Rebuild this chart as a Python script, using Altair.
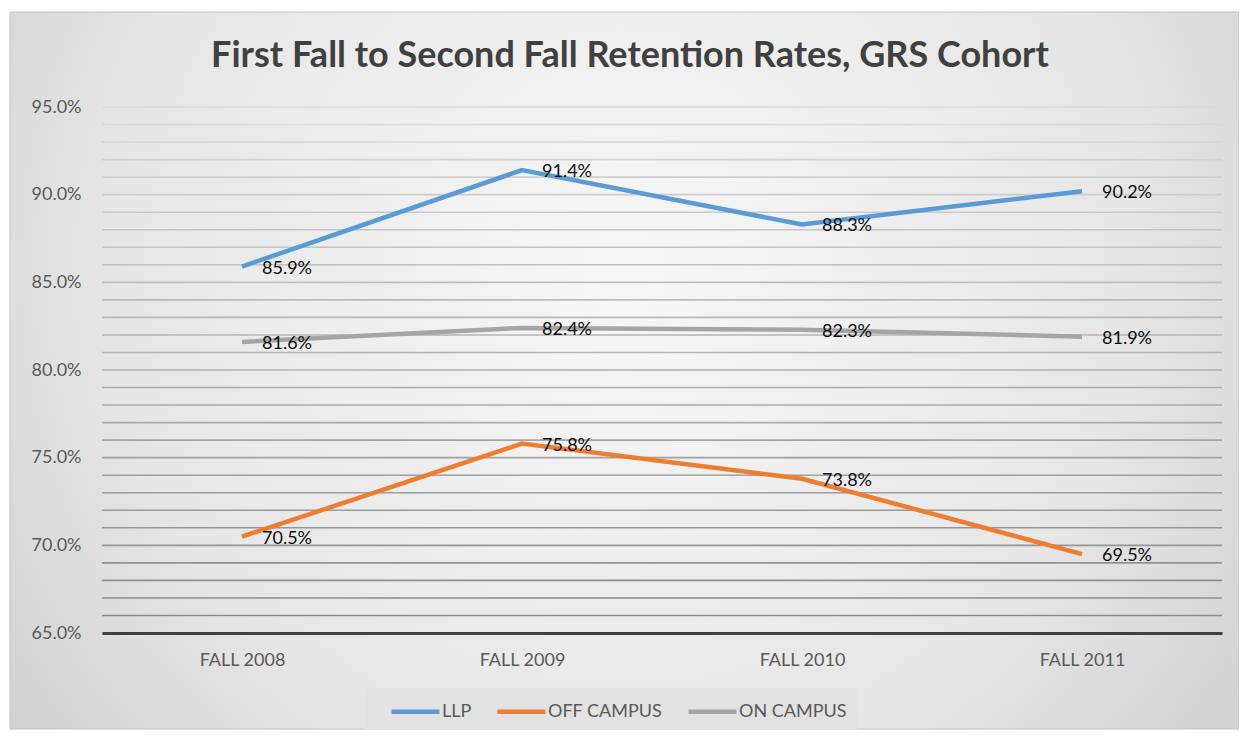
import altair as alt
import pandas as pd

years = ["FALL 2008", "FALL 2009", "FALL 2010", "FALL 2011"]
series = ["LLP", "OFF CAMPUS", "ON CAMPUS"]
llp = [85.9, 91.4, 88.3, 90.2]
off_campus = [70.5, 75.8, 73.8, 69.5]
on_campus = [81.6, 82.4, 82.3, 81.9]
colors = ["#5B9BD5", "#ED7D31", "#A5A5A5"]
major_ticks = [65, 70, 75, 80, 85, 90, 95]
grid_values = list(range(66, 96))
title_text = "First Fall to Second Fall Retention Rates, GRS Cohort"

rows = []
for name, vals in zip(series, [llp, off_campus, on_campus]):
    for yr, v in zip(years, vals):
        rows.append({"year": yr, "series": name, "value": v})
df = pd.DataFrame(rows)
grid_df = pd.DataFrame({"g": grid_values})
one = pd.DataFrame({"a": [0]})

FONT = "Lato"
W, H = 1120, 526

yscale = alt.Scale(domain=[65, 95], nice=False, zero=False)
xenc = alt.X("year:N", sort=years, scale=alt.Scale(type="point", padding=0.5),
             axis=alt.Axis(title=None, ticks=False, domain=True, domainColor="#404040",
                           domainWidth=3, labelFontSize=18, labelColor="#595959",
                           labelFont=FONT, labelPadding=18, labelAngle=0, zindex=1, grid=False))

bg = alt.Chart(one).mark_rect(
    color=alt.RadialGradient(
        gradient="radial", x1=0.5, y1=0.42, r1=0, x2=0.5, y2=0.42, r2=0.75,
        stops=[alt.GradientStop(offset=0, color="#f7f7f7"),
               alt.GradientStop(offset=0.55, color="#e6e6e6"),
               alt.GradientStop(offset=1, color="#c4c4c4")]),
    stroke="#c2c2c2", strokeWidth=1, clip=False
).encode(x=alt.value(-92), x2=alt.value(1137), y=alt.value(-95), y2=alt.value(622))

legbox = alt.Chart(one).mark_rect(color="#e2e2e2", clip=False).encode(
    x=alt.value(263), x2=alt.value(755), y=alt.value(581), y2=alt.value(624))

grid = alt.Chart(grid_df).mark_rule(strokeWidth=1.6).encode(
    y=alt.Y("g:Q", scale=yscale),
    stroke=alt.Stroke("g:Q", scale=alt.Scale(domain=[66, 95], range=["#8a8a8a", "#dadada"]), legend=None),
)

lines = alt.Chart(df).mark_line(strokeWidth=4.5).encode(
    x=xenc,
    y=alt.Y("value:Q", scale=yscale,
            axis=alt.Axis(title=None, values=major_ticks, ticks=False, domain=False, grid=False,
                          labelExpr="format(datum.value, '.1f') + '%'", labelFontSize=18,
                          labelColor="#595959", labelFont=FONT, labelPadding=21, zindex=1)),
    color=alt.Color("series:N", sort=series, scale=alt.Scale(domain=series, range=colors),
                    legend=alt.Legend(title=None, orient="none", legendX=287, legendY=578,
                                      direction="horizontal", symbolType="stroke",
                                      symbolSize=2304, symbolStrokeWidth=4.5,
                                      labelFontSize=18, labelColor="#595959", labelFont=FONT,
                                      labelOffset=0, columnPadding=16, padding=0, zindex=1)),
    detail="series:N",
)

labels = alt.Chart(df).transform_calculate(
    lab="format(datum.value, '.1f') + '%'"
).mark_text(align="left", baseline="middle", dx=20, dy=2, fontSize=18, font=FONT,
            color="#0d0d0d").encode(
    x=alt.X("year:N", sort=years, scale=alt.Scale(type="point", padding=0.5)),
    y=alt.Y("value:Q", scale=yscale),
    text="lab:N",
)

title = alt.Chart(one).mark_text(text=title_text, align="center", baseline="middle",
                                 fontSize=36, fontWeight="bold", font=FONT, color="#404040",
                                 clip=False).encode(x=alt.value(528), y=alt.value(-51))

chart = alt.layer(bg, legbox, grid, lines, labels, title).properties(
    width=W, height=H,
    autosize=alt.AutoSizeParams(type="none"),
    padding={"left": 94, "top": 99, "right": 17, "bottom": 97},
).configure_view(stroke=None).configure(background="white")

chart.save("out.html", embed_options={"renderer": "svg", "actions": False})
